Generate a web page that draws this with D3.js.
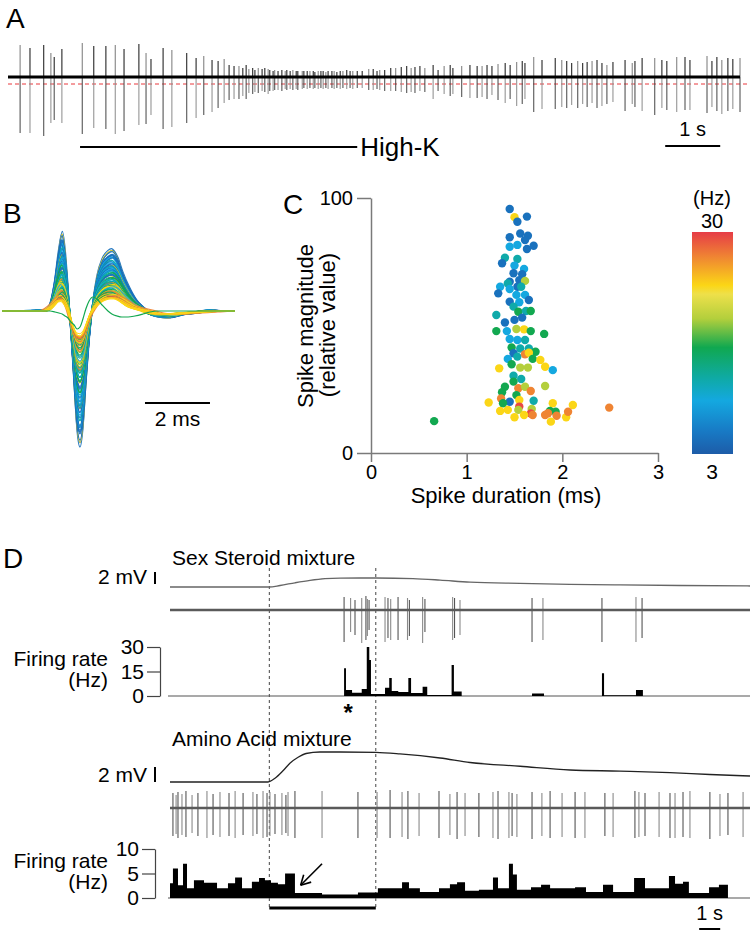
<!DOCTYPE html>
<html><head><meta charset="utf-8">
<script src="https://cdn.jsdelivr.net/npm/d3@7"></script>
<style>body{margin:0;background:#fff}svg{display:block}text{font-family:"Liberation Sans",Arial,Helvetica,sans-serif;fill:#000}</style>
</head><body><svg id="c" width="752" height="932"></svg>
<script>
// ---------- Panel A : extracellular trace during High-K ----------
const aDuration = 13.31;            // s
const aThreshold = -7;              // relative units
const aStim = [1.31, 6.35];         // High-K application (s)
const aSpikeTime = [0.22,0.40,0.65,0.78,0.84,0.98,1.35,1.56,1.78,1.95,2.11,2.38,2.51,2.60,2.82,2.98,3.25,3.42,3.56,3.71,3.82,3.93,4.02,4.11,4.20,4.27,4.33,4.38,4.45,4.49,4.55,4.62,4.67,4.73,4.76,4.82,4.85,4.91,4.98,5.04,5.07,5.13,5.18,5.24,5.27,5.35,5.38,5.44,5.49,5.55,5.58,5.64,5.69,5.73,5.78,5.82,5.89,5.93,5.98,6.04,6.09,6.16,6.22,6.27,6.35,6.44,6.56,6.64,6.71,6.76,6.85,6.96,7.05,7.15,7.25,7.33,7.40,7.49,7.58,7.73,7.82,7.93,8.04,8.09,8.25,8.40,8.53,8.62,8.71,8.80,8.91,9.04,9.13,9.25,9.35,9.40,9.56,9.71,9.95,10.07,10.16,10.25,10.36,10.45,10.53,10.62,10.71,10.80,10.89,11.00,11.22,11.35,11.40,11.53,11.76,11.89,11.98,12.16,12.31,12.40,12.71,12.80,12.89,12.98,13.09,13.18,13.31];
const aSpikeUp = [32,29,32,24,20,28,34,31,31,32,28,33,24,18,29,27,24,19,21,17,16,18,12,11,11,9,12,8,9,7,9,8,9,8,7,6,7,6,7,6,7,6,7,6,6,6,6,6,6,6,5,6,6,6,5,6,6,6,5,6,6,7,6,6,6,6,8,8,6,7,7,9,9,10,11,9,10,11,9,12,7,11,12,9,11,12,11,11,12,11,13,14,12,15,16,14,20,17,19,17,16,14,16,14,15,16,17,14,12,15,17,14,16,19,19,17,16,20,20,17,21,16,20,17,19,18,19];
const aSpikeDown = [56,56,59,46,43,46,57,51,52,57,54,48,47,38,52,50,46,41,38,35,31,26,23,22,22,19,22,16,17,15,16,14,15,17,14,14,13,13,14,12,13,12,13,12,13,12,11,12,11,12,11,12,11,12,11,12,11,12,11,12,11,12,11,12,11,11,13,13,12,13,14,14,14,15,16,15,16,14,15,22,14,17,19,17,20,21,21,20,22,18,23,26,22,29,27,22,35,32,32,30,31,28,31,27,30,26,31,29,27,25,34,27,30,34,38,31,33,35,33,33,36,30,34,37,34,32,35];
const aScaleBar = [11.95, 12.95];

// ---------- Panel C : spike duration vs magnitude (colour = firing rate Hz) ----------
const cDuration = [1.45,1.50,1.53,1.63,1.45,1.56,1.64,1.61,1.45,1.53,1.63,1.70,1.40,1.53,1.37,1.50,1.60,1.49,1.58,1.45,1.55,1.61,1.35,1.43,1.53,1.45,1.57,1.33,1.52,1.61,1.45,1.55,1.65,1.49,1.54,1.62,1.67,1.31,1.50,1.58,1.40,1.31,1.42,1.52,1.60,1.67,1.81,1.45,1.53,1.61,1.47,1.56,1.65,1.72,1.49,1.43,1.53,1.61,1.65,1.69,1.77,1.47,1.34,1.56,1.64,1.82,1.90,1.49,1.57,1.49,1.40,1.54,1.61,1.82,1.37,1.52,1.67,1.36,1.45,1.55,1.70,1.23,1.38,1.55,1.68,1.35,1.43,1.54,1.90,2.11,1.87,1.93,1.67,1.69,1.60,1.50,1.82,1.94,2.04,2.06,1.88,0.66,2.49,1.85];
const cMagnitude = [95.7,92.5,90.7,92.7,84.6,86.1,85.2,83.5,80.9,81.6,80.0,81.3,76.6,76.1,74.4,73.5,72.2,70.5,70.1,67.2,67.8,67.5,65.2,66.5,65.2,64.3,65.2,62.6,62.0,62.0,59.3,59.1,60.0,57.4,55.4,55.7,55.7,54.1,52.2,53.1,51.2,47.8,47.8,48.6,48.5,47.8,46.7,44.7,44.3,44.3,41.4,41.0,41.0,39.7,39.1,36.9,37.8,38.7,39.3,36.9,36.5,34.8,33.2,33.5,33.5,33.8,32.5,30.3,29.0,28.0,26.0,25.4,26.0,26.3,23.8,22.7,24.3,21.4,20.1,20.8,20.5,19.8,19.5,18.2,17.3,16.5,16.9,16.9,19.5,18.8,16.5,16.2,15.5,14.9,14.9,14.0,14.9,14.6,14.0,16.2,12.3,12.5,17.8,15.6];
const cRate = [5,23.5,5,5,5,5,5,5,9.5,9.5,5,5,12,12,5,9.5,9.5,5,5,5,5,19.5,9.5,12,5,9.5,12,5,9.5,9.5,5,9.5,5,12,16,12,16,12,5,5,5,16,9.5,19.5,23.5,16,16,9.5,9.5,12,16,12,12,16,5,9.5,12,27,23.5,16,23.5,16,23.5,19.5,19.5,23.5,9.5,12,12,16,16,27,19.5,19.5,16,16,27,27,5,23.5,12,23.5,16,29.5,19.5,23.5,23.5,19.5,23.5,23.5,16,16,29.5,27,23.5,23.5,27,27,23.5,27,23.5,16,27,27];
const rateTicks = [3, 30];
const rateStops = [0, 0.10, 0.24, 0.34, 0.48, 0.61, 0.72, 0.76, 0.88, 1.0];
const rateColors = ["#1d5ca8","#1879c4","#14a8e0","#0faaa6","#10a850","#b3cf3c","#eee04a","#fbd616","#f08a31","#e63c47"];

// ---------- Panel B : spike waveform templates (ms, relative amplitude) ----------
const bWaveT = [-1,0,1.32,1.48,1.63,1.75,1.85,1.94,2.03,2.12,2.22,2.31,2.40,2.49,2.58,2.68,2.80,2.92,3.08,3.26,3.38,3.54,3.69,3.88,4.09,4.34,4.55,4.80,5.11,5.48,5.94,6.40,6.71,7.17,9];
const bWaveLarge = [0,0,1,6,30,62,79,62,25,-20,-75,-120,-135,-118,-75,-30,10,35,52,60,62,55,40,25,12,3,-3,-6,-7,-4,-2,1,0,0,0];
const bWaveSmall = [0,0,0,2,6,10,11,8,2,-8,-18,-24,-25,-22,-14,-5,2,7,11,13,13,11,8,4,2,0,-2,-3,-3,-2,-1,0,0,0,0];
const bWaveOutlier = [0,0,0,0,-1,-2,-3,-5,-7,-11,-14,-18,-16,-8,2,10,14,12,6,0,-3,-5,-6,-6,-5,-3,-1,0,0,0,0,0,0,0,0];
const bScaleBar = [4.4, 6.4];

// ---------- Panel D : odorant responses ----------
const dDuration = 27.62;
const dStim = [4.73, 9.8];
const dTopPotT = [0,4.71,5.24,5.95,6.67,7.38,8.10,9.81,11.57,12.86,14.29,16.67,19.05,21.43,24.29,27.62];
const dTopPotMV = [0,0,0.25,0.7,1.1,1.38,1.48,1.5,1.4,1.15,0.8,0.6,0.45,0.35,0.25,0.17];
const dBotPotT = [0,4.67,5.00,5.38,5.71,6.10,6.48,7.14,8.10,9.81,10.95,12.86,14.29,16.67,19.05,21.43,23.81,25.71,27.62];
const dBotPotMV = [0,0,0.5,1.5,2.5,3.3,3.8,4.0,4.0,3.95,3.75,3.2,2.6,2.1,1.6,1.45,1.25,1.0,0.8];
const dTopSpikeT = [8.29,8.60,8.81,9.13,9.33,9.40,9.48,10.24,10.38,10.51,10.86,11.31,11.40,12.03,12.14,13.46,13.55,13.81,17.24,17.76,20.57,22.19,22.48];
const dTopSpikeUp = [13,12,10,12,14,11,10,13,12,11,13,12,10,13,11,13,12,10,12,12,12,13,12];
const dTopSpikeDown = [32,22,25,33,30,26,20,32,28,30,30,30,26,33,22,30,28,25,32,30,32,32,28];
const dBotSpikeT = [0.14,0.29,0.38,0.57,0.76,1.05,1.33,1.76,2.05,2.38,2.81,3.10,3.48,3.95,4.14,4.43,4.62,4.76,5.00,5.33,5.52,5.62,5.95,7.24,8.95,9.86,10.48,11.05,11.33,11.86,12.81,13.33,13.67,14.05,14.71,15.38,15.62,16.14,16.29,16.52,17.24,17.71,18.10,18.67,19.29,19.76,20.71,21.10,22.14,22.33,22.62,23.29,23.81,24.05,24.43,24.76,25.71,26.19,26.57,27.29];
const dBotSpikeUp = [15,13,16,14,17,13,15,17,14,16,15,17,15,16,14,17,15,16,14,15,13,16,17,17,16,16,18,16,17,15,17,14,16,15,15,16,17,16,15,14,16,15,17,15,16,16,15,15,17,16,15,16,15,15,16,17,16,14,15,16];
const dBotSpikeDown = [28,26,30,27,29,25,28,30,27,29,28,30,27,28,26,30,29,28,26,27,25,28,30,30,30,30,30,29,31,28,30,27,31,28,29,30,31,30,28,29,31,28,30,29,30,30,28,29,30,29,28,29,30,30,29,30,31,28,27,29];
const dTopRateT = [0,8.29,8.38,8.67,9.13,9.37,9.49,9.57,10.24,10.44,10.56,10.87,11.35,11.48,12.03,12.25,13.41,13.52,13.89,17.24,17.81,20.57,20.67,22.19,22.52,27.62];
const dTopRate = [0,17,3.7,2,4.3,30,22,1.2,5,11,3,2.4,11,1.8,5.7,0.6,19,2.7,0,1.5,0,14,0.5,3.7,0,0];
const dBotRateT = [0,0.14,0.38,0.62,0.81,1.14,1.62,2.24,2.76,3.10,3.43,3.90,4.24,4.52,4.81,5.14,5.48,5.95,7.24,8.95,9.90,10.48,11.05,11.38,11.90,12.81,13.33,13.67,14.05,14.71,15.38,15.62,16.14,16.33,16.52,17.19,17.67,18.10,18.71,19.29,19.81,20.62,21.10,22.10,22.62,23.19,23.76,24.05,24.43,24.71,25.67,26.14,26.57,27.62];
const dBotRate = [3,6,2.6,7,2,3.6,3.1,2,3,4.2,2,3.3,4.1,3.6,3.1,2.8,5,1,0.7,1.1,2,2,3.2,2,1.2,2,2.8,3.2,1.5,1.7,4.2,2,7,4.8,1.7,2.2,2.7,2,2,2.2,1.2,2.7,1.2,4.1,2,2,4.5,2.9,3.3,1,2.2,2.7,0,0];
const dTopRateTicks = [0,15,30];
const dBotRateTicks = [0,5,10];
const dArrowFrom = [7.24, 7.0], dArrowTo = [6.22, 2.6];
const dAsteriskT = 8.48;
const dScaleBar = [25.2, 26.2];

// =====================================================================
const svg = d3.select("#c");
const lbl = (x, y, s, size, anchor) => svg.append("text").attr("x", x).attr("y", y)
  .attr("font-size", size).attr("text-anchor", anchor || "start").text(s);

// ---------- A ----------
lbl(6, 28, "A", 28);
const xA = d3.scaleLinear().domain([0, aDuration]).range([8, 740]);
const yA = d3.scaleLinear().domain([-60, 40]).range([137, 37]);
svg.append("line").attr("x1", xA(0)).attr("x2", 750).attr("y1", yA(aThreshold)).attr("y2", yA(aThreshold))
  .attr("stroke", "#e8383d").attr("stroke-width", 1).attr("stroke-dasharray", "4,3");
const gAs = svg.append("g");
aSpikeTime.forEach((t, i) => {
  gAs.append("line").attr("x1", xA(t)).attr("x2", xA(t)).attr("y1", yA(0)).attr("y2", yA(-aSpikeDown[i]))
    .attr("stroke", i % 2 ? "#8a8a8a" : "#444").attr("stroke-width", 1);
  gAs.append("line").attr("x1", xA(t)).attr("x2", xA(t)).attr("y1", yA(0)).attr("y2", yA(aSpikeUp[i]))
    .attr("stroke", i % 3 ? "#111" : "#777").attr("stroke-width", 1);
});
svg.append("line").attr("x1", xA(0)).attr("x2", xA(aDuration)).attr("y1", yA(0)).attr("y2", yA(0))
  .attr("stroke", "#000").attr("stroke-width", 3);
svg.append("line").attr("x1", xA(aStim[0])).attr("x2", xA(aStim[1])).attr("y1", 147).attr("y2", 147)
  .attr("stroke", "#000").attr("stroke-width", 2);
lbl(xA(aStim[1]) + 3, 156, "High-K", 26);
svg.append("line").attr("x1", xA(aScaleBar[0])).attr("x2", xA(aScaleBar[1])).attr("y1", 146).attr("y2", 146)
  .attr("stroke", "#000").attr("stroke-width", 2);
lbl((xA(aScaleBar[0]) + xA(aScaleBar[1])) / 2, 136, "1 s", 20, "middle");

// colour scale shared by B and C
const rateFrac = d3.scaleLinear().domain(rateTicks).range([0, 1]);
const fracColor = d3.scaleLinear().domain(rateStops).range(rateColors);
const rateColor = r => fracColor(rateFrac(r));

// ---------- B ----------
lbl(3, 223, "B", 28);
const xB = d3.scaleLinear().domain([0, 7.17]).range([2, 235]);
const yB = d3.scaleLinear().domain([-140, 85]).range([451, 226]);
svg.append("clipPath").attr("id", "clipB").append("rect").attr("x", 2).attr("y", 180).attr("width", 233).attr("height", 300);
const gB = svg.append("g").attr("clip-path", "url(#clipB)");
const lineB = d3.line().x(d => xB(d[0])).y(d => yB(d[1])).curve(d3.curveMonotoneX);
const order = d3.range(cMagnitude.length).filter(i => cDuration[i] > 1).sort((a, b) => cMagnitude[b] - cMagnitude[a]);
order.forEach(i => {
  const w = (cMagnitude[i] - 14) / (95 - 14);
  const k = 1 + (cDuration[i] - 1.5) * 0.2;
  const pts = bWaveT.map((t, j) => [2.4 + (t - 2.4) * k, bWaveSmall[j] + (bWaveLarge[j] - bWaveSmall[j]) * w]);
  gB.append("path").attr("d", lineB(pts)).attr("fill", "none").attr("stroke", rateColor(cRate[i]))
    .attr("stroke-width", 1.1).attr("stroke-opacity", 0.95);
});
d3.range(cMagnitude.length).filter(i => cDuration[i] <= 1).forEach(i => {
  gB.append("path").attr("d", lineB(bWaveT.map((t, j) => [t, bWaveOutlier[j]]))).attr("fill", "none")
    .attr("stroke", rateColor(cRate[i])).attr("stroke-width", 1.2);
});
svg.append("line").attr("x1", xB(bScaleBar[0])).attr("x2", xB(bScaleBar[1])).attr("y1", 403).attr("y2", 403)
  .attr("stroke", "#000").attr("stroke-width", 2);
lbl((xB(bScaleBar[0]) + xB(bScaleBar[1])) / 2, 426, "2 ms", 21, "middle");

// ---------- C ----------
lbl(283, 214, "C", 28);
const xC = d3.scaleLinear().domain([0, 3]).range([371, 658]);
const yC = d3.scaleLinear().domain([0, 100]).range([453, 198]);
const axX = svg.append("g").attr("transform", "translate(0,453)")
  .call(d3.axisBottom(xC).tickValues([0, 1, 2, 3]).tickSize(9).tickSizeOuter(0).tickPadding(3).tickFormat(d3.format("d")));
const axY = svg.append("g").attr("transform", "translate(371,0)")
  .call(d3.axisLeft(yC).tickValues([0, 100]).tickSize(14).tickSizeOuter(0).tickPadding(4).tickFormat(d3.format("d")));
[axX, axY].forEach(a => {
  a.selectAll("path,line").attr("stroke", "#7a7a7a").attr("stroke-width", 1.5);
  a.selectAll("text").attr("font-size", 20).attr("fill", "#000").attr("font-family", "Liberation Sans, Arial, sans-serif");
});
svg.append("text").attr("x", 506).attr("y", 503).attr("font-size", 22).attr("text-anchor", "middle").text("Spike duration (ms)");
svg.append("text").attr("transform", "translate(313,326) rotate(-90)").attr("font-size", 22).attr("text-anchor", "middle").text("Spike magnitude");
svg.append("text").attr("transform", "translate(335,325) rotate(-90)").attr("font-size", 22).attr("text-anchor", "middle").text("(relative value)");
svg.append("g").selectAll("circle").data(d3.range(cMagnitude.length)).join("circle")
  .attr("cx", i => xC(cDuration[i])).attr("cy", i => yC(cMagnitude[i])).attr("r", 4.2)
  .attr("fill", i => rateColor(cRate[i]));

// colour bar
const yCB = d3.scaleLinear().domain(rateTicks).range([454, 232]);
const grad = svg.append("defs").append("linearGradient").attr("id", "cbar")
  .attr("x1", 0).attr("x2", 0).attr("y1", 1).attr("y2", 0);
rateStops.forEach((s, i) => grad.append("stop").attr("offset", s).attr("stop-color", rateColors[i]));
svg.append("rect").attr("x", 692).attr("y", yCB(rateTicks[1])).attr("width", 41)
  .attr("height", yCB(rateTicks[0]) - yCB(rateTicks[1])).attr("fill", "url(#cbar)");
lbl(712, 205, "(Hz)", 20, "middle");
lbl(712, yCB(rateTicks[1]) - 4, String(rateTicks[1]), 20, "middle");
lbl(712, yCB(rateTicks[0]) + 25, String(rateTicks[0]), 21, "middle");

// ---------- D ----------
lbl(3, 568, "D", 28);
const xD = d3.scaleLinear().domain([0, dDuration]).range([170, 750]);
dStim.forEach(t => svg.append("line").attr("x1", xD(t)).attr("x2", xD(t)).attr("y1", 568).attr("y2", 907)
  .attr("stroke", "#444").attr("stroke-width", 1).attr("stroke-dasharray", "3,3"));

function drawBlock(o) {
  lbl(172, o.titleY, o.title, 21);
  const yP = d3.scaleLinear().domain([0, 2]).range([o.potY, o.potY - o.pxPer2mV]);
  svg.append("path").attr("d", d3.line().x((t, i) => xD(t)).y((t, i) => yP(o.potMV[i])).curve(d3.curveMonotoneX)(o.potT))
    .attr("fill", "none").attr("stroke", o.potColor).attr("stroke-width", 1.3);
  lbl(147, o.barBottom, "2 mV", 21, "end");
  svg.append("line").attr("x1", o.barX).attr("x2", o.barX).attr("y1", o.barBottom).attr("y2", o.barBottom - o.pxPer2mV)
    .attr("stroke", "#000").attr("stroke-width", 2);
  const yS = d3.scaleLinear().domain([-40, 20]).range([o.spkY + 40, o.spkY - 20]);
  const gS = svg.append("g");
  o.spkT.forEach((t, i) => {
    gS.append("line").attr("x1", xD(t)).attr("x2", xD(t)).attr("y1", yS(o.spkUp[i])).attr("y2", yS(-o.spkDown[i]))
      .attr("stroke", i % 2 ? "#8a8a8a" : "#555").attr("stroke-width", 1.1);
  });
  svg.append("line").attr("x1", xD(0)).attr("x2", xD(dDuration)).attr("y1", yS(0)).attr("y2", yS(0))
    .attr("stroke", "#5a5a5a").attr("stroke-width", 2.6);
  const yR = d3.scaleLinear().domain([0, o.rateMax]).range([o.rateY0, o.rateY0 - 49]);
  svg.append("line").attr("x1", xD(0) - 2).attr("x2", xD(dDuration)).attr("y1", yR(0)).attr("y2", yR(0))
    .attr("stroke", "#555").attr("stroke-width", 1.2);
  svg.append("path").attr("d", d3.area().x((t) => xD(t)).y0(yR(0)).y1((t, i) => yR(o.rate[i])).curve(d3.curveStepAfter)(o.rateT))
    .attr("fill", "#000");
  const ax = svg.append("g").attr("transform", `translate(${o.axisX},0)`)
    .call(d3.axisLeft(yR).tickValues(o.ticks).tickSize(13).tickSizeOuter(0).tickPadding(3));
  ax.selectAll("path,line").attr("stroke", "#444").attr("stroke-width", 1.2);
  ax.selectAll("text").attr("font-size", 21).attr("fill", "#000").attr("font-family", "Liberation Sans, Arial, sans-serif");
  lbl(108, o.rateY0 - 30, "Firing rate", 21, "end");
  lbl(108, o.rateY0 - 9, "(Hz)", 21, "end");
  return yR;
}

drawBlock({title: "Sex Steroid mixture", titleY: 565, potT: dTopPotT, potMV: dTopPotMV, potY: 587, pxPer2mV: 12,
  potColor: "#666", barX: 155, barBottom: 584, spkT: dTopSpikeT, spkUp: dTopSpikeUp, spkDown: dTopSpikeDown, spkY: 610,
  rateT: dTopRateT, rate: dTopRate, rateMax: 30, rateY0: 696, ticks: dTopRateTicks, axisX: 160});
const yR2 = drawBlock({title: "Amino Acid mixture", titleY: 746, potT: dBotPotT, potMV: dBotPotMV, potY: 782, pxPer2mV: 15,
  potColor: "#222", barX: 155, barBottom: 782, spkT: dBotSpikeT, spkUp: dBotSpikeUp, spkDown: dBotSpikeDown, spkY: 808,
  rateT: dBotRateT, rate: dBotRate, rateMax: 10, rateY0: 898, ticks: dBotRateTicks, axisX: 155});

// asterisk
lbl(xD(dAsteriskT), 721, "*", 24, "middle").attr("font-weight", "bold");
// arrow
const ax1 = xD(dArrowFrom[0]), ay1 = yR2(dArrowFrom[1]), ax2 = xD(dArrowTo[0]), ay2 = yR2(dArrowTo[1]);
svg.append("line").attr("x1", ax1).attr("y1", ay1).attr("x2", ax2).attr("y2", ay2).attr("stroke", "#000").attr("stroke-width", 1.6);
const ang = Math.atan2(ay1 - ay2, ax1 - ax2);
[-0.5, 0.5].forEach(da => svg.append("line").attr("x1", ax2).attr("y1", ay2)
  .attr("x2", ax2 + 11 * Math.cos(ang + da)).attr("y2", ay2 + 11 * Math.sin(ang + da))
  .attr("stroke", "#000").attr("stroke-width", 1.6));
svg.append("line").attr("x1", xD(dStim[0])).attr("x2", xD(dStim[1])).attr("y1", 908).attr("y2", 908)
  .attr("stroke", "#000").attr("stroke-width", 3);
svg.append("line").attr("x1", xD(dScaleBar[0])).attr("x2", xD(dScaleBar[1])).attr("y1", 929).attr("y2", 929)
  .attr("stroke", "#000").attr("stroke-width", 2);
lbl((xD(dScaleBar[0]) + xD(dScaleBar[1])) / 2, 920, "1 s", 20, "middle");
</script></body></html>
